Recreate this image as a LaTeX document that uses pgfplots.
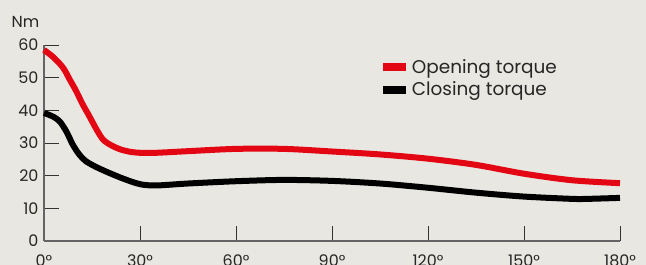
\documentclass[border=0pt]{standalone}
\usepackage{pgfplots}
\pgfplotsset{compat=1.18}
\usepackage{fontspec}
\setmainfont{Poppins}
\definecolor{bg}{RGB}{232,231,225}
\definecolor{tqred}{RGB}{227,6,19}
\definecolor{axgrey}{RGB}{100,100,100}
\begin{document}
\begin{tikzpicture}
\fill[bg] (-44bp,-24bp) rectangle (602bp,241bp);
\begin{axis}[
  at={(0,0)}, anchor=south west,
  scale only axis, width=576bp, height=196bp,
  xmin=0, xmax=180, ymin=0, ymax=60,
  axis lines=left, axis line style={axgrey, line width=1.3bp, -},
  xtick={0,30,60,90,120,150,180},
  xticklabels={0°,30°,60°,90°,120°,150°,180°},
  ytick={0,10,20,30,40,50,60},
  tick align=inside, major tick length=15bp,
  tick style={black!80, line width=0.9bp},
  /pgf/number format/assume math mode=true,
  ticklabel style={font=\fontsize{16}{16}\selectfont, text=black!85},
  yticklabel style={xshift=-2bp},
  xticklabel style={yshift=-10bp},
  clip=false,
  legend style={at={(rel axis cs:0.582,0.935)}, anchor=north west, draw=none, fill=none,
    font=\fontsize{18.5}{18.5}\selectfont, text=black!85, row sep=4bp, inner sep=0pt,
    nodes={inner sep=1.5bp}},
  legend cell align=left,
  legend image code/.code={\draw[#1, line width=8bp] (0bp,0bp) -- (23bp,0bp);},
]
\addplot[tqred, line width=6bp, smooth] coordinates {
(0,58.5) (3,56.2) (6,53) (8,49.5) (10,46) (12,42) (14,38.5) (16.5,34) (18.5,31)
(21,29.3) (24,28) (27,27.3) (30,27) (35,27) (45,27.5) (60,28.2) (75,28.2)
(90,27.4) (105,26.5) (120,25.2) (135,23.3) (150,20.6) (165,18.6) (180,17.7)};
\addlegendentry{Opening torque}
\addplot[black, line width=6bp, smooth] coordinates {
(0,39.2) (3,38) (5,36.5) (7,33.5) (9,29.5) (11,26.5) (13,24.5) (16,22.8) (20,21)
(25,19) (30,17.4) (35,17) (45,17.6) (60,18.3) (75,18.7) (90,18.4) (105,17.6)
(120,16.3) (135,14.8) (150,13.6) (165,12.9) (170,12.9) (180,13.2)};
\addlegendentry{Closing torque}
\end{axis}
\node[font=\fontsize{16}{16}\selectfont, text=black!85] at (-18.5bp,219bp) {Nm};
\pgfresetboundingbox
\path[use as bounding box] (-44bp,-24bp) rectangle (602bp,241bp);
\end{tikzpicture}
\end{document}
